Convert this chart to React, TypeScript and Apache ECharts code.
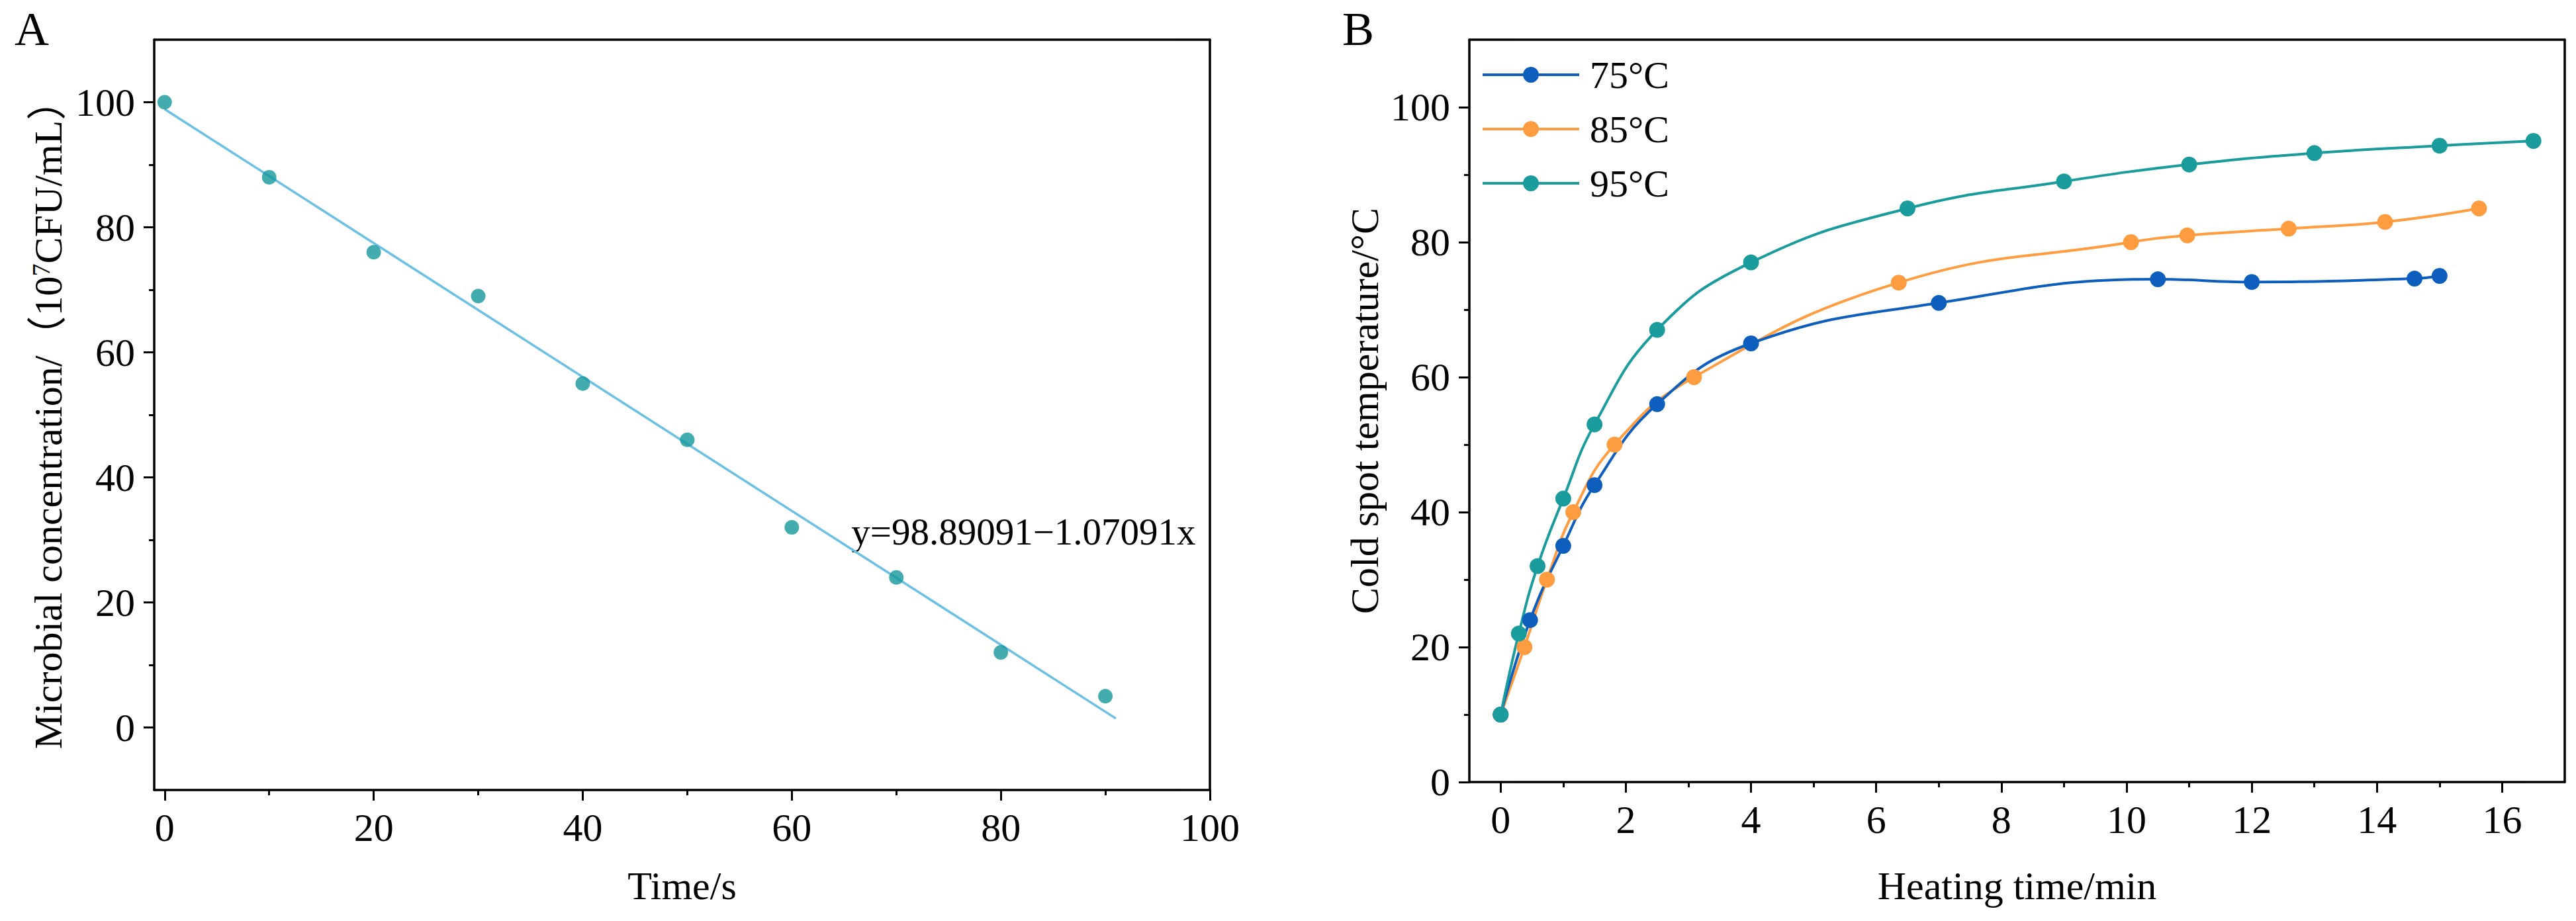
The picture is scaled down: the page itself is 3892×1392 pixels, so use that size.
import React, { useEffect, useRef } from "react";
import * as echarts from "echarts";

const FONT = "'Liberation Serif', 'Times New Roman', 'Noto Sans CJK SC', serif";

// ---------- Panel A data ----------
const timeS = [0, 10, 20, 30, 40, 50, 60, 70, 80, 90];
const microbialConc = [100, 88, 76, 69, 55, 46, 32, 24, 12, 5];
const fitX = [0, 91];
const fitY = [98.89, 1.44];
const fitEquation = "y=98.89091\u22121.07091x";
const eqAnchor = [65.7, 31.3];
const aXMajor = [0, 20, 40, 60, 80, 100];
const aXMinor = [10, 30, 50, 70, 90];
const aYMajor = [0, 20, 40, 60, 80, 100];
const aYMinor = [10, 30, 50, 70, 90];

// ---------- Panel B data ----------
const seriesNames = ["75°C", "85°C", "95°C"];
const t75 = [0, 0.47, 1, 1.5, 2.5, 4, 7, 10.5, 12, 14.6, 15];
const temp75 = [10, 24, 35, 44, 56, 65, 71, 74.5, 74.1, 74.6, 75];
const t85 = [0, 0.38, 0.74, 1.16, 1.82, 3.09, 6.36, 10.07, 10.97, 12.59, 14.13, 15.63];
const temp85 = [10, 20, 30, 40, 50, 60, 74, 80, 81, 82, 83, 85];
const t95 = [0, 0.29, 0.59, 1, 1.5, 2.5, 4, 6.5, 9, 11, 13, 15, 16.5];
const temp95 = [10, 22, 32, 42, 53, 67, 77, 85, 89, 91.5, 93.2, 94.3, 95];
const bXMajor = [0, 2, 4, 6, 8, 10, 12, 14, 16];
const bXMinor = [1, 3, 5, 7, 9, 11, 13, 15];
const bYMajor = [0, 20, 40, 60, 80, 100];
const bYMinor = [10, 30, 50, 70, 90];

const COLORS = {
  aMarker: "#14979B",
  aFit: "#6CC0E4",
  c75: "#0E5EBE",
  c85: "#FF9C3F",
  c95: "#1A9B9C",
};

const AXIS_W = 3.5;
const axisLineStyle = { color: "#000", width: AXIS_W };
const labelStyle = { fontSize: 60, fontFamily: FONT, color: "#000" };

function pairs(xs: number[], ys: number[]) {
  return xs.map((x, i) => [x, ys[i]]);
}

function makeAxes(
  dim: "x" | "y",
  gridIndex: number,
  min: number,
  max: number,
  major: number[],
  minor: number[],
  name: string,
  nameGap: number,
  rich?: any
) {
  const mainPos = dim === "x" ? "bottom" : "left";
  const oppPos = dim === "x" ? "top" : "right";
  const main = {
    type: "value",
    gridIndex,
    min,
    max,
    position: mainPos,
    axisLine: { show: true, onZero: false, lineStyle: axisLineStyle },
    axisTick: { show: true, inside: false, length: 16, customValues: major, lineStyle: { color: "#000", width: 3 } },
    axisLabel: { show: true, customValues: major, margin: dim === "x" ? 27 : 29, ...labelStyle },
    splitLine: { show: false },
    name,
    nameLocation: "middle",
    nameGap,
    nameTextStyle: { fontSize: 60, fontFamily: FONT, color: "#000", rich },
  };
  const minorAxis = {
    type: "value",
    gridIndex,
    min,
    max,
    position: mainPos,
    axisLine: { show: false, onZero: false },
    axisTick: { show: true, inside: false, length: 8, customValues: minor, lineStyle: { color: "#000", width: 3 } },
    axisLabel: { show: false },
    splitLine: { show: false },
  };
  const opp = {
    type: "value",
    gridIndex,
    min,
    max,
    position: oppPos,
    axisLine: { show: true, onZero: false, lineStyle: axisLineStyle },
    axisTick: { show: false },
    axisLabel: { show: false },
    splitLine: { show: false },
  };
  return [main, minorAxis, opp];
}

export default function App() {
  const ref = useRef<HTMLDivElement>(null);

  useEffect(() => {
    if (!ref.current) return;
    const chart = echarts.init(ref.current, undefined, { renderer: "svg" });

    const richA = {
      a: { fontSize: 60, fontFamily: FONT, color: "#000" },
      s: { fontSize: 38, fontFamily: FONT, color: "#000", verticalAlign: "top" },
    };

    const xAxes = [
      ...makeAxes("x", 0, -1, 100, aXMajor, aXMinor, "Time/s", 115),
      ...makeAxes("x", 1, -0.5, 17, bXMajor, bXMinor, "Heating time/min", 127),
    ];
    const yAxes = [
      ...makeAxes(
        "y",
        0,
        -10,
        110,
        aYMajor,
        aYMinor,
        "{a|Microbial concentration/（10}{s|7}{a|CFU/mL）}",
        130,
        richA
      ),
      ...makeAxes("y", 1, 0, 110, bYMajor, bYMinor, "Cold spot temperature/°C", 128),
    ];

    const lineSeries = (name: string, xs: number[], ys: number[], color: string) => ({
      name,
      type: "line",
      xAxisIndex: 3,
      yAxisIndex: 3,
      data: pairs(xs, ys),
      smooth: 0.45,
      symbol: "circle",
      symbolSize: 24,
      showSymbol: true,
      lineStyle: { color, width: 4 },
      itemStyle: { color },
    });

    chart.setOption({
      animation: false,
      backgroundColor: "#fff",
      grid: [
        { left: 233, top: 60, width: 1595, height: 1134, containLabel: false },
        { left: 2220, top: 60, width: 1655, height: 1122, containLabel: false },
      ],
      xAxis: xAxes,
      yAxis: yAxes,
      legend: {
        data: seriesNames,
        orient: "vertical",
        left: 2233,
        top: 79,
        itemWidth: 146,
        itemHeight: 30,
        itemGap: 24,
        lineStyle: { width: 4 },
        textStyle: { fontFamily: FONT, fontSize: 58, color: "#000", lineHeight: 56, padding: [0, 0, 0, 11] },
      },
      series: [
        {
          name: "Linear fit",
          type: "line",
          xAxisIndex: 0,
          yAxisIndex: 0,
          data: pairs(fitX, fitY),
          showSymbol: false,
          symbol: "none",
          lineStyle: { color: COLORS.aFit, width: 3.5 },
          z: 2,
        },
        {
          name: "Microbial concentration",
          type: "scatter",
          xAxisIndex: 0,
          yAxisIndex: 0,
          data: pairs(timeS, microbialConc),
          symbol: "circle",
          symbolSize: 22,
          itemStyle: { color: COLORS.aMarker },
          z: 3,
        },
        lineSeries(seriesNames[1], t85, temp85, COLORS.c85),
        lineSeries(seriesNames[0], t75, temp75, COLORS.c75),
        lineSeries(seriesNames[2], t95, temp95, COLORS.c95),
      ],
    });

    const p = chart.convertToPixel({ xAxisIndex: 0, yAxisIndex: 0 }, eqAnchor) as number[];
    chart.setOption({
      graphic: [
        {
          type: "text",
          left: 22,
          top: 8,
          style: { text: "A", fontSize: 72, fontFamily: FONT, fill: "#000" },
        },
        {
          type: "text",
          left: 2028,
          top: 8,
          style: { text: "B", fontSize: 72, fontFamily: FONT, fill: "#000" },
        },
        {
          type: "text",
          x: p[0],
          y: p[1],
          style: {
            text: fitEquation,
            fontSize: 57,
            fontFamily: FONT,
            fill: "#000",
            textAlign: "left",
            textVerticalAlign: "middle",
          },
        },
      ],
    });

    return () => chart.dispose();
  }, []);

  return (
    <div
      ref={ref}
      style={{ position: "absolute", left: 0, top: 0, width: 3892, height: 1392, background: "#fff" }}
    />
  );
}
